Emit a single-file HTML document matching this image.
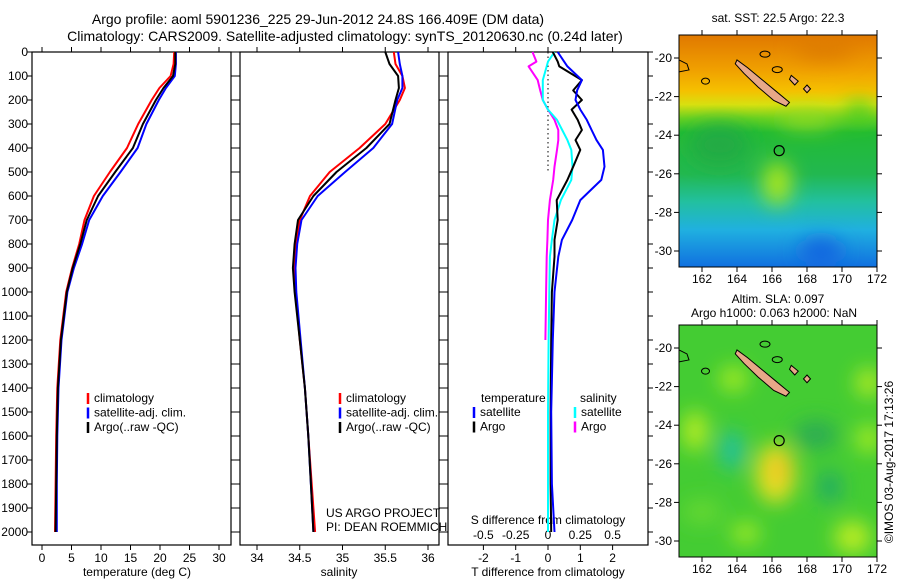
<!DOCTYPE html>
<html><head><meta charset="utf-8">
<style>
body{margin:0;background:#fff;}
svg{display:block;font-family:"Liberation Sans",sans-serif;}
</style></head>
<body>
<svg id="chart" width="900" height="580" viewBox="0 0 900 580" xmlns="http://www.w3.org/2000/svg">
<defs>
<filter id="blur10" x="-50%" y="-50%" width="200%" height="200%"><feGaussianBlur stdDeviation="10"/></filter>
<clipPath id="clipM1"><rect x="679" y="35" width="198" height="232"/></clipPath>
<clipPath id="clipM2"><rect x="679" y="325" width="198" height="232"/></clipPath>
<linearGradient id="sstGrad" x1="0" y1="0" x2="0" y2="1">
<stop offset="0" stop-color="#e07800"/><stop offset="0.15" stop-color="#f0a000"/>
<stop offset="0.24" stop-color="#f5c000"/><stop offset="0.3" stop-color="#d8e010"/>
<stop offset="0.36" stop-color="#66d022"/><stop offset="0.42" stop-color="#22bb33"/>
<stop offset="0.6" stop-color="#22b850"/><stop offset="0.72" stop-color="#22c0a0"/>
<stop offset="0.84" stop-color="#20b0e0"/><stop offset="1" stop-color="#1070e0"/></linearGradient>
</defs>
<text x="318" y="24" font-size="14" text-anchor="middle">Argo profile: aoml 5901236_225 29-Jun-2012 24.8S 166.409E (DM data)</text>
<text x="345" y="41" font-size="14" text-anchor="middle">Climatology: CARS2009. Satellite-adjusted climatology: synTS_20120630.nc (0.24d later)</text>
<g id="panels"></g>
<g id="maps"></g>
</svg>
<script>
// ---- data ----
const depths = [0,50,100,150,200,300,400,500,600,700,800,900,1000,1200,1400,1600,1800,2000];
const depthTicks = [0,100,200,300,400,500,600,700,800,900,1000,1100,1200,1300,1400,1500,1600,1700,1800,1900,2000];
const argoT = [22.6,22.6,22.2,20.6,19.3,17.1,15.4,12.4,9.5,7.6,6.5,5.2,4.2,3.2,2.7,2.5,2.4,2.3];
const climT = [22.4,22.3,21.8,19.9,18.6,16.3,14.4,11.5,8.8,7.2,6.3,5.1,4.1,3.1,2.6,2.4,2.3,2.2];
const satT  = [22.7,22.7,22.5,21.0,19.8,17.7,16.2,13.3,10.3,8.0,6.8,5.4,4.3,3.3,2.8,2.6,2.5,2.5];
const argoS = [35.5,35.55,35.65,35.66,35.62,35.55,35.28,34.93,34.66,34.48,34.44,34.42,34.44,34.5,34.56,34.6,34.63,34.66];
const climS = [35.6,35.62,35.7,35.73,35.67,35.5,35.2,34.85,34.62,34.5,34.45,34.44,34.45,34.5,34.56,34.6,34.64,34.68];
const satS  = [35.65,35.67,35.7,35.7,35.64,35.58,35.36,35.03,34.71,34.52,34.47,34.45,34.46,34.51,34.56,34.6,34.63,34.66];
const tTicks = [0,5,10,15,20,25,30];
const sTicks = [34,34.5,35,35.5,36];
const dTTicks = [-2,-1,0,1,2];
const dSTicks = [-0.5,-0.25,0,0.25,0.5];
const diffDepths = [0,40,60,117,160,200,240,283,325,367,408,478,533,617,700,783,853,1000,1200,1500,1800,2000];
const dTsat  = [0.3,0.5,0.6,1.05,0.9,0.85,1.0,1.2,1.35,1.5,1.7,1.75,1.65,1.0,0.75,0.43,0.32,0.2,0.15,0.1,0.12,0.2];
const dTargo = [0.15,0.3,0.35,1.05,0.78,1.05,0.73,0.92,1.05,0.85,1.0,0.78,0.6,0.27,0.3,0.2,0.2,0.12,0.1,0.08,0.08,0.1];
const dSsat  = [0.05,0,-0.01,-0.04,-0.04,-0.04,0.0,0.07,0.11,0.15,0.18,0.19,0.18,0.1,0.05,0.03,0.015,0.01,0.005,0,0,0];
const dSargo = [-0.12,-0.09,-0.15,-0.08,-0.06,-0.04,0,0.05,0.08,0.08,0.07,0.05,0.04,0.015,0,-0.005,-0.01,-0.015,-0.02];
const lonTicks = [162,164,166,168,170,172];
const latTicks = [-20,-22,-24,-26,-28,-30];

// ---- axes ----
const NS='http://www.w3.org/2000/svg';
const yD = d => 52 + 0.24*d;
const xT = t => 42 + 5.9*t;
const xS = s => 257 + 85.5*(s-34);
const xDT = v => 548 + 32.3*v;
const xDS = v => 548 + 129.2*v;
const lonX = lon => 702 + 17.5*(lon-162);
const latY1 = lat => 58 + 19.3*(-lat-20);
const latY2 = lat => 348 + 19.3*(-lat-20);
const G = document.getElementById('panels');
const M = document.getElementById('maps');
function mk(tag, attrs, parent){const e=document.createElementNS(NS,tag);for(const k in attrs)e.setAttribute(k,attrs[k]);(parent||G).appendChild(e);return e;}
function txt(x,y,s,anchor,size,parent){const e=mk('text',{x:x,y:y,'font-size':size||12,'text-anchor':anchor||'middle'},parent);e.textContent=s;return e;}

const panels=[[32,231],[240,439],[448,648]];
panels.forEach((p,i)=>{
  const r=mk('rect',{x:p[0],y:52,width:p[1]-p[0],height:493,fill:'none',stroke:'#000','stroke-width':1.2});
  
  
});
depthTicks.forEach(d=>{
  const y=yD(d);
  const l=txt(28,y+4,String(d),'end',12);
  
  
  panels.forEach(p=>{mk('line',{x1:p[0]-5,x2:p[0],y1:y,y2:y,stroke:'#000'});mk('line',{x1:p[1],x2:p[1]+5,y1:y,y2:y,stroke:'#000'});});
});
function xAxis(ticks,fx){
  ticks.forEach(t=>{
    const x=fx(t);
    mk('line',{x1:x,x2:x,y1:545,y2:550,stroke:'#000'});
    mk('line',{x1:x,x2:x,y1:52,y2:47,stroke:'#000'});
    const l=txt(x,562,String(t),'middle',12);
    
    
  });
}
xAxis(tTicks,xT); xAxis(sTicks,xS); xAxis(dTTicks,xDT);
[[137,'temperature (deg C)'],[339,'salinity'],[548,'T difference from climatology']].forEach(a=>{
  const l=txt(a[0],576,a[1],'middle',12);
  
  
});
dSTicks.forEach(t=>{
  const l=txt(xDS(t),539,String(t),'middle',12);
  
  
});
const sdt=txt(548,524,'S difference from climatology','middle',12);


const z=mk('line',{x1:xDT(0),x2:xDT(0),y1:yD(0),y2:yD(500),stroke:'#000','stroke-dasharray':'1.5,3'});



function series(vals,fx,dArr,color,name,w){
  const pts=vals.map((v,i)=>fx(v).toFixed(1)+','+yD(dArr[i]).toFixed(1)).join(' ');
  const p=mk('polyline',{points:pts,fill:'none',stroke:color,'stroke-width':w||2,'stroke-linejoin':'round'});
  
  
}
series(climT,xT,depths,'#ff0000','temp-climatology-line');
series(satT,xT,depths,'#0000ff','temp-satellite-line');
series(argoT,xT,depths,'#000000','temp-argo-line');
series(climS,xS,depths,'#ff0000','sal-climatology-line');
series(satS,xS,depths,'#0000ff','sal-satellite-line');
series(argoS,xS,depths,'#000000','sal-argo-line');
series(dSargo,xDS,diffDepths,'#ff00ff','sdiff-argo-line');
series(dSsat,xDS,diffDepths,'#00ffff','sdiff-satellite-line');
series(dTargo,xDT,diffDepths,'#000000','tdiff-argo-line');
series(dTsat,xDT,diffDepths,'#0000ff','tdiff-satellite-line');

function legend(x,y,items){
  items.forEach((it,i)=>{
    const yy=y+i*14.5;
    const m=mk('line',{x1:x,x2:x,y1:yy-9,y2:yy+2,stroke:it[1],'stroke-width':2.5});
    
    
    const t=txt(x+6,yy,it[0],'start',12);
    
    
  });
}
const legItems=[['climatology','#ff0000'],['satellite-adj. clim.','#0000ff'],['Argo(..raw -QC)','#000000']];
legend(88,402,legItems);
legend(340,402,legItems);
txt(481,402,'temperature','start',12);
legend(474,416,[['satellite','#0000ff'],['Argo','#000000']]);
txt(580,402,'salinity','start',12);
legend(575,416,[['satellite','#00ffff'],['Argo','#ff00ff']]);
txt(326,517,'US ARGO PROJECT','start',12);
txt(326,531,'PI: DEAN ROEMMICH','start',12);

// ---- maps ----
function island(parent,ly){
  const pts=[[164,-20.1],[164.6,-20.5],[165.4,-21.1],[166.2,-21.7],[167,-22.3],[166.8,-22.5],[166.1,-22.2],[165.2,-21.5],[164.4,-20.8],[163.9,-20.3]]
    .map(p=>lonX(p[0])+','+ly(p[1])).join(' ');
  const e=mk('polygon',{points:pts,fill:'#e8a888',stroke:'#000','stroke-width':1},parent);
  
  
  mk('polygon',{points:[[167.1,-20.9],[167.5,-21.2],[167.3,-21.4],[167,-21.1]].map(p=>lonX(p[0])+','+ly(p[1])).join(' '),fill:'#e8a888',stroke:'#000'},parent);
  mk('polygon',{points:[[168,-21.4],[168.2,-21.6],[168,-21.8],[167.8,-21.6]].map(p=>lonX(p[0])+','+ly(p[1])).join(' '),fill:'#e8a888',stroke:'#000'},parent);
  mk('ellipse',{cx:lonX(165.6),cy:ly(-19.8),rx:5,ry:3,fill:'none',stroke:'#000'},parent);
  mk('ellipse',{cx:lonX(166.3),cy:ly(-20.6),rx:5,ry:3,fill:'none',stroke:'#000'},parent);
  mk('path',{d:'M679 '+(ly(-20.1))+' l8 4 l2 6 l-10 2',fill:'none',stroke:'#000'},parent);
  mk('ellipse',{cx:lonX(162.2),cy:ly(-21.2),rx:4,ry:3,fill:'none',stroke:'#000'},parent);
  const c=mk('circle',{cx:lonX(166.41),cy:ly(-24.8),r:5,fill:'none',stroke:'#000','stroke-width':1.2},parent);
  
  
}
function mapAxes(top,ly){
  mk('rect',{x:679,y:top,width:198,height:232,fill:'none',stroke:'#000'},M);
  latTicks.forEach(l=>{const y=ly(l);mk('line',{x1:674,x2:679,y1:y,y2:y,stroke:'#000'},M);mk('line',{x1:877,x2:882,y1:y,y2:y,stroke:'#000'},M);
    const t=txt(672,y+4,String(l),'end',12,M);});
  lonTicks.forEach(l=>{const x=lonX(l);mk('line',{x1:x,x2:x,y1:top-5,y2:top,stroke:'#000'},M);mk('line',{x1:x,x2:x,y1:top+232,y2:top+237,stroke:'#000'},M);
    const t=txt(x,top+248,String(l),'middle',12,M);});
}
const g1=mk('g',{'clip-path':'url(#clipM1)'},M);


mk('rect',{x:679,y:35,width:198,height:232,fill:'url(#sstGrad)'},g1);
const b1=mk('g',{filter:'url(#blur10)'},g1);
mk('ellipse',{cx:lonX(166.3),cy:latY1(-26.5),rx:14,ry:22,fill:'#aee81a'},b1);
mk('ellipse',{cx:lonX(168.8),cy:latY1(-30),rx:22,ry:12,fill:'#1860e0'},b1);
mk('ellipse',{cx:lonX(171),cy:latY1(-22.8),rx:14,ry:10,fill:'#44cc22'},b1);
mk('ellipse',{cx:lonX(163),cy:latY1(-24.5),rx:30,ry:20,fill:'#22aa44'},b1);
mk('ellipse',{cx:lonX(169),cy:latY1(-19.5),rx:30,ry:10,fill:'#dd7a00'},b1);
mk('ellipse',{cx:lonX(168),cy:latY1(-23.2),rx:30,ry:8,fill:'#99dd22'},b1);
island(g1,latY1);
mapAxes(35,latY1);
const g2=mk('g',{'clip-path':'url(#clipM2)'},M);


mk('rect',{x:679,y:325,width:198,height:232,fill:'#44cc33'},g2);
const b2=mk('g',{filter:'url(#blur10)'},g2);
[[166.2,-26.5,20,30,'#e8e020'],[166.4,-26.3,10,14,'#f0c020'],[161.6,-24.3,12,20,'#bbee22'],[163.8,-21.6,14,12,'#aaee22'],[171.5,-21.8,12,14,'#bbee22'],[171.5,-24.7,12,14,'#aaee22'],[164.5,-29.6,14,10,'#aaee22'],[170.6,-29.8,18,16,'#c0ee22'],[163.7,-25.3,12,20,'#22c0a0'],[169.3,-27.2,12,16,'#22aa66'],[168.5,-24.5,22,14,'#2aaa55'],[162,-28.5,20,12,'#66d833']]
 .forEach(b=>mk('ellipse',{cx:lonX(b[0]),cy:latY2(b[1]),rx:b[2],ry:b[3],fill:b[4]},b2));
island(g2,latY2);
mapAxes(325,latY2);
txt(778,22,'sat. SST: 22.5 Argo: 22.3','middle',12,M);
txt(778,303,'Altim. SLA: 0.097','middle',12,M);
txt(774,317,'Argo h1000: 0.063 h2000: NaN','middle',12,M);
const ts=txt(0,0,'©IMOS 03-Aug-2017 17:13:26','middle',12,M);
ts.setAttribute('transform','translate(893,462) rotate(-90)');


</script>
</body></html>
